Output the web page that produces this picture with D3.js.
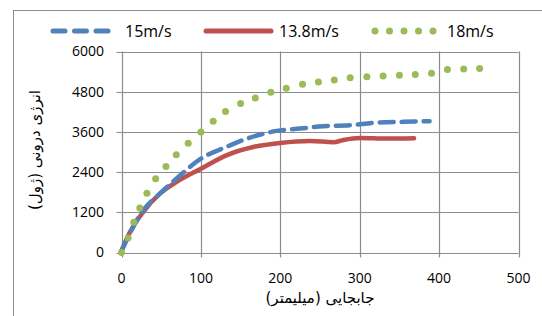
<!doctype HTML>
<html>
<head>
    <style>
        body { margin: 0; background: white; }
        text { font-family: "Open Sans", "DejaVu Sans", sans-serif; fill: #000; }
        .fa { font-family: "DejaVu Sans", sans-serif; }
    </style>
    <script src="https://d3js.org/d3.v7.min.js"></script>
</head>
<body>
<script>
    var canvasWidth = 542;
    var canvasHeight = 316;

    // data: displacement (mm) vs energy (J)
    var red_x = [0, 10.5, 27, 48, 69, 100, 132, 166, 199.5, 237.5, 260, 267, 279.5, 300.5, 334, 368.5];
    var red_y = [50, 600, 1200, 1750, 2100, 2500, 2900, 3150, 3270, 3330, 3300, 3290, 3360, 3420, 3400, 3410];

    var blue_x = [0, 27, 48, 69, 100, 132, 162, 195.5, 225, 254, 288, 321.5, 355, 388];
    var blue_y = [50, 1250, 1750, 2200, 2800, 3150, 3430, 3630, 3700, 3770, 3800, 3880, 3900, 3920];

    var green_x = [0, 8.3, 15.5, 23, 32, 43, 56, 69, 84, 100, 115.5, 131, 150, 168.5, 188, 207.5, 228, 248, 268, 288, 309, 329.5, 350, 370, 390.5, 410.5, 431, 451];
    var green_y = [0, 430, 900, 1330, 1770, 2200, 2570, 2920, 3260, 3600, 3920, 4210, 4450, 4610, 4780, 4900, 5020, 5090, 5150, 5220, 5250, 5270, 5290, 5310, 5350, 5460, 5480, 5490];

    var xTicks = [0, 100, 200, 300, 400, 500];
    var yTicks = [0, 1200, 2400, 3600, 4800, 6000];
    var seriesNames = ["15m/s", "13.8m/s", "18m/s"];

    var svg = d3.select("body").append("svg")
        .attr("width", canvasWidth)
        .attr("height", canvasHeight);

    // outer chart frame
    svg.append("rect")
        .attr("x", 13.5).attr("y", 10.5)
        .attr("width", 600).attr("height", 400)
        .attr("fill", "white")
        .attr("stroke", "#8c8c8c")
        .attr("stroke-width", 1);

    var xScale = d3.scaleLinear().domain([0, 500]).range([121.5, 518.5]);
    var yScale = d3.scaleLinear().domain([0, 6000]).range([252.5, 51.5]);

    var grid = svg.append("g");
    grid.selectAll(".hg").data(yTicks).enter().append("line")
        .attr("x1", xScale(0) - 5).attr("x2", xScale(500))
        .attr("y1", d => Math.round(yScale(d)) + 0.5)
        .attr("y2", d => Math.round(yScale(d)) + 0.5)
        .attr("stroke", "#8c8c8c").attr("stroke-width", 1.2);
    grid.selectAll(".vg").data(xTicks).enter().append("line")
        .attr("y1", yScale(6000)).attr("y2", yScale(0) + 5)
        .attr("x1", d => Math.round(xScale(d)) + 0.5)
        .attr("x2", d => Math.round(xScale(d)) + 0.5)
        .attr("stroke", "#8c8c8c").attr("stroke-width", 1.2);

    // tick labels
    svg.selectAll(".yl").data(yTicks).enter().append("text")
        .attr("x", 104)
        .attr("y", d => yScale(d))
        .attr("dy", "0.35em")
        .attr("text-anchor", "end")
        .attr("font-size", "14px")
        .text(d => d);
    svg.selectAll(".xl").data(xTicks).enter().append("text")
        .attr("x", d => xScale(d))
        .attr("y", 278)
        .attr("dy", "0.35em")
        .attr("text-anchor", "middle")
        .attr("font-size", "14px")
        .text(d => d);

    // axis titles
    svg.append("text")
        .attr("class", "fa")
        .attr("x", xScale(250))
        .attr("y", 298)
        .attr("dy", "0.35em")
        .attr("text-anchor", "middle")
        .attr("font-size", "15px")
        .attr("direction", "rtl")
        .text("جابجایی (میلیمتر)");
    svg.append("text")
        .attr("class", "fa")
        .attr("transform", "translate(35, 150) rotate(-90)")
        .attr("dy", "0.35em")
        .attr("text-anchor", "middle")
        .attr("font-size", "15px")
        .attr("direction", "rtl")
        .text("انرژی درونی (ژول)");

    var line = d3.line()
        .x(d => xScale(d[0]))
        .y(d => yScale(d[1]))
        .curve(d3.curveMonotoneX);

    var plot = svg.append("g");

    plot.append("path")
        .datum(d3.zip(red_x, red_y))
        .attr("d", line)
        .attr("fill", "none")
        .attr("stroke", "#c0504d")
        .attr("stroke-width", 4.5)
        .attr("stroke-linecap", "round");

    plot.append("path")
        .datum(d3.zip(blue_x, blue_y))
        .attr("d", line)
        .attr("fill", "none")
        .attr("stroke", "#4f81bd")
        .attr("stroke-width", 4.5)
        .attr("stroke-dasharray", "14 8")
        .attr("stroke-linecap", "round");

    // green: round-dot style, one dot per reading
    plot.selectAll(".gdot").data(d3.zip(green_x, green_y)).enter().append("circle")
        .attr("cx", d => xScale(d[0]))
        .attr("cy", d => yScale(d[1]))
        .attr("r", 3.5)
        .attr("fill", "#9bbb59");

    // legend
    var lg = svg.append("g");
    lg.append("line")
        .attr("x1", 53).attr("x2", 110).attr("y1", 31).attr("y2", 31)
        .attr("stroke", "#4f81bd").attr("stroke-width", 5)
        .attr("stroke-dasharray", "12 9.5").attr("stroke-linecap", "round");
    lg.append("line")
        .attr("x1", 206).attr("x2", 271).attr("y1", 31).attr("y2", 31)
        .attr("stroke", "#c0504d").attr("stroke-width", 5)
        .attr("stroke-linecap", "round");
    lg.selectAll(".ld").data([0, 1, 2, 3, 4]).enter().append("circle")
        .attr("cx", d => 375 + d * 14.5).attr("cy", 31).attr("r", 3.5)
        .attr("fill", "#9bbb59");
    lg.selectAll(".lt").data(seriesNames).enter().append("text")
        .attr("x", (d, i) => [125, 279, 447][i])
        .attr("y", 31)
        .attr("dy", "0.35em")
        .attr("font-size", "16px")
        .text(d => d);
</script>
</body>
</html>
